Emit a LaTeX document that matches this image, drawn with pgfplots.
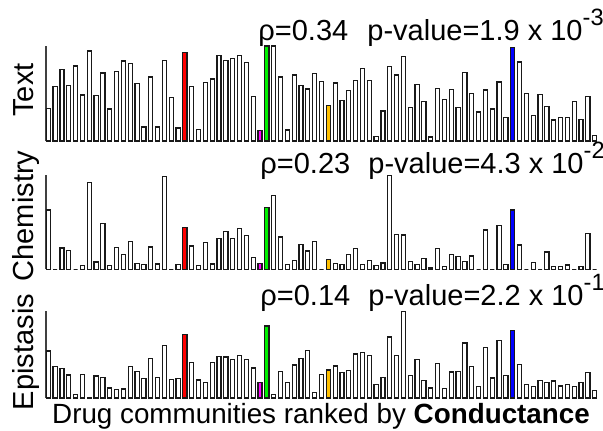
\documentclass[border=0pt]{standalone}
\usepackage{fontspec}
\setmainfont{Liberation Sans}
\setsansfont{Liberation Sans}
\usepackage{pgfplots}
\usepackage{pgfplotstable}
\pgfplotsset{compat=1.18}
\definecolor{cred}{RGB}{255,0,0}
\definecolor{cmag}{RGB}{255,0,255}
\definecolor{cgreen}{RGB}{0,240,0}
\definecolor{corange}{RGB}{255,192,0}
\definecolor{cblue}{RGB}{0,0,255}

\pgfplotstableread{
i T C E
0 98 178 141
1 163 0 94
2 215 64 89
3 166 56 69
4 225 0 10
5 138 11 70
6 270 260 2
7 137 22 66
8 204 138 61
9 96 12 30
10 209 66 26
11 240 45 27
12 233 83 95
13 173 17 80
14 42 15 58
15 192 67 118
16 42 16 61
17 242 278 158
18 131 0 55
19 39 14 58
20 266 126 190
21 163 70 107
22 35 12 54
23 176 80 46
24 186 16 107
25 257 93 125
26 241 114 123
27 248 93 116
28 257 123 128
29 236 101 115
30 133 36 90
31 31 18 47
32 285 185 216
33 285 221 10
34 192 97 80
35 33 15 46
36 198 26 99
37 166 74 118
38 156 55 143
39 203 84 17
40 179 0 71
41 107 29 84
42 174 17 96
43 121 15 77
44 151 44 83
45 181 63 132
46 218 15 136
47 182 26 128
48 13 12 41
49 90 19 61
50 223 281 183
51 198 105 127
52 253 103 260
53 100 23 67
54 170 15 115
55 119 32 53
56 12 4 30
57 158 62 104
58 125 9 29
59 155 45 78
60 101 39 80
61 205 24 165
62 143 40 95
63 87 0 35
64 153 118 152
65 96 0 60
66 177 132 173
67 70 15 68
68 281 178 203
69 237 73 100
70 143 0 40
71 77 21 35
72 140 0 52
73 104 52 47
74 63 9 51
75 71 9 36
76 71 13 41
77 119 0 35
78 64 9 47
79 134 108 77
80 16 0 23
}\data

\pgfplotsset{
  panel/.style={
    scale only axis, width=276.1pt, xmin=-0.35, xmax=80.5, ymin=0,
    axis x line=none, axis y line*=left, ytick=\empty, xtick=\empty,
    axis line style={black!75, line width=0.6pt}, clip=false,
    anchor=south west,
  },
  wbar/.style={ybar, bar width=2.05pt, draw=black!90, fill=white, line width=0.6pt},
  cbar/.style={ybar, bar width=2.05pt, draw=black!90, fill=#1, line width=0.6pt},
}
\newcommand{\tf}{\fontsize{14.5}{17}\selectfont}
\newcommand{\xf}{\fontsize{13.9}{16}\selectfont}
\newcommand{\supx}[1]{\raisebox{0.5em}{\fontsize{11.8}{14}\selectfont #1}}

\begin{document}
\begin{tikzpicture}
\path[use as bounding box] (0,0) rectangle (301.5pt,215pt);

% Panel 1: Text
\begin{axis}[panel, at={(22.95pt,144.5pt)}, height=47.5pt, ymax=285]
\addplot[wbar] table[x=i,y=T]{\data};
\addplot[cbar=cred] coordinates {(20,266)};
\addplot[cbar=cmag] coordinates {(31,31)};
\addplot[cbar=cgreen] coordinates {(32,285)};
\addplot[cbar=corange] coordinates {(41,107)};
\addplot[cbar=cblue] coordinates {(68,281)};
\end{axis}

% Panel 2: Chemistry
\begin{axis}[panel, at={(22.95pt,80.35pt)}, height=47.15pt, ymax=283]
\addplot[wbar] table[x=i,y=C]{\data};
\addplot[cbar=cred] coordinates {(20,126)};
\addplot[cbar=cmag] coordinates {(31,18)};
\addplot[cbar=cgreen] coordinates {(32,185)};
\addplot[cbar=corange] coordinates {(41,29)};
\addplot[cbar=cblue] coordinates {(68,178)};
\end{axis}

% Panel 3: Epistasis
\begin{axis}[panel, at={(22.95pt,16pt)}, height=43.33pt, ymax=260]
\addplot[wbar] table[x=i,y=E]{\data};
\addplot[cbar=cred] coordinates {(20,190)};
\addplot[cbar=cmag] coordinates {(31,47)};
\addplot[cbar=cgreen] coordinates {(32,216)};
\addplot[cbar=corange] coordinates {(41,84)};
\addplot[cbar=cblue] coordinates {(68,203)};
\end{axis}

% titles
\node[anchor=base west, inner sep=0pt] at (129pt,195pt) {\tf ρ=0.34};
\node[anchor=base west, inner sep=0pt] at (183.5pt,195pt) {\tf p-value=1.9 x 10\supx{-3}};
\node[anchor=base west, inner sep=0pt] at (130pt,128.5pt) {\tf ρ=0.23};
\node[anchor=base west, inner sep=0pt] at (184pt,128.5pt) {\tf p-value=4.3 x 10\supx{-2}};
\node[anchor=base west, inner sep=0pt] at (130pt,62.5pt) {\tf ρ=0.14};
\node[anchor=base west, inner sep=0pt] at (184pt,62.5pt) {\tf p-value=2.2 x 10\supx{-1}};

% y labels
\node[rotate=90, anchor=base, inner sep=0pt] at (16.5pt,170pt) {\tf Text};
\node[rotate=90, anchor=base, inner sep=0pt] at (16.5pt,107pt) {\tf Chemistry};
\node[rotate=90, anchor=base, inner sep=0pt] at (16.5pt,39pt) {\tf Epistasis};

% x label
\node[anchor=base, inner sep=0pt] at (160.5pt,3.5pt) {\xf Drug communities ranked by \textbf{Conductance}};
\end{tikzpicture}
\end{document}
